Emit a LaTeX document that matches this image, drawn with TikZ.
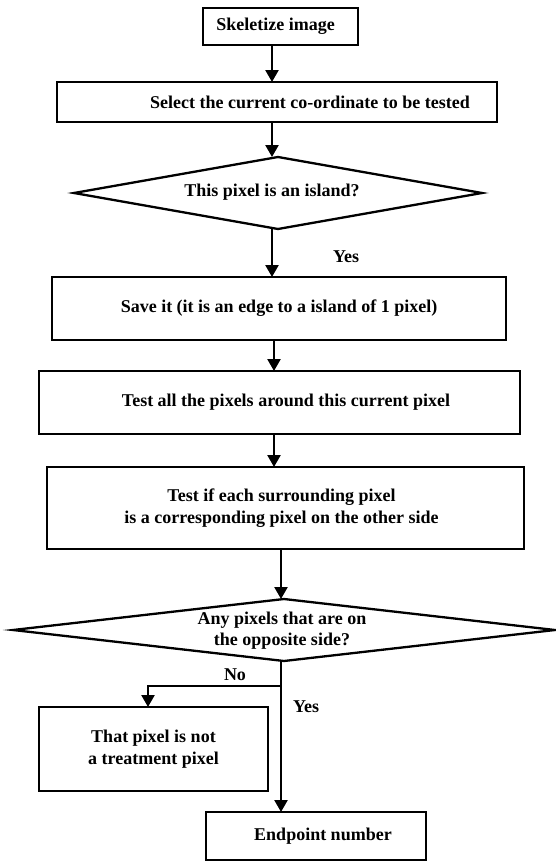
\documentclass[tikz,border=0pt]{standalone}
\usepackage{fontspec}
\setmainfont{Liberation Serif}
\usetikzlibrary{arrows.meta}
\begin{document}
\begin{tikzpicture}[x=1pt,y=-1pt,
  every node/.style={font=\fontsize{18}{22}\selectfont\bfseries, align=center},
  boxnode/.style={draw, line width=2.6pt, inner sep=0pt, outer sep=0pt},
  dianode/.style={draw=none, inner sep=0pt, outer sep=0pt},
  diaedge/.style={line width=2.3pt, line join=miter},
  arr/.style={line width=2.4pt, -{Triangle[width=13pt,length=12pt]}},
  lbl/.style={inner sep=0pt}]
\useasboundingbox (0,0) rectangle (556,862);
\fill[white] (0,0) rectangle (556,862);

% boxes
\node[boxnode, minimum width=155pt, minimum height=37pt] (b1) at (280.5,26.5) {\hspace*{-10pt}Skeletize image};
\node[boxnode, minimum width=440pt, minimum height=40pt] (b2) at (277,102) {\hspace*{66pt}Select the current co-ordinate to be tested};
\node[boxnode, minimum width=454pt, minimum height=63pt] (b3) at (279,308.5) {Save it (it is an edge to a island of 1 pixel)};
\node[boxnode, minimum width=481pt, minimum height=63pt] (b4) at (279.5,402.5) {\hspace*{13pt}Test all the pixels around this current pixel};
\node[boxnode, minimum width=477pt, minimum height=82pt] (b5) at (285.5,508) {\hspace*{-8pt}Test if each surrounding pixel\\\hspace*{-8pt}is a corresponding pixel on the other side};
\node[boxnode, minimum width=229pt, minimum height=84pt] (b6) at (153.5,749) {That pixel is not\\a treatment pixel};
\node[boxnode, minimum width=220pt, minimum height=48pt] (b7) at (316,836) {\hspace*{14pt}Endpoint number};

% diamonds
\node[dianode, minimum width=408pt, minimum height=72pt] (d1) at (278,193) {};
\draw[diaedge] (d1.west) -- (d1.north) -- (d1.east) -- (d1.south) -- cycle;
\node[lbl] (t1) at (272,192) {This pixel is an island?};

\node[dianode, minimum width=542pt, minimum height=62pt] (d2) at (284,630) {};
\draw[diaedge] (d2.west) -- (d2.north) -- (d2.east) -- (d2.south) -- cycle;
\node[lbl, font=\fontsize{18}{21}\selectfont\bfseries] (t2) at (282,631) {Any pixels that are on\\the opposite side?};

% axes for vertical connectors
\coordinate (axA) at (272,0);
\coordinate (axM) at (274,0);
\coordinate (axB) at (281,0);
\coordinate (nojoint) at (148,686);

% connectors
\draw[arr] (b1.south -| axA) -- (b2.north -| axA);
\draw[arr] (b2.south -| axA) -- (d1.north -| axA);
\draw[arr] (d1.south -| axA) -- (b3.north -| axA);
\draw[arr] (b3.south -| axM) -- (b4.north -| axM);
\draw[arr] (b4.south -| axM) -- (b5.north -| axM);
\draw[arr] (b5.south -| axB) -- (d2.north -| axB);
\draw[arr] (d2.south -| axB) |- (nojoint) -- (b6.north -| nojoint);
\draw[arr] (d2.south -| axB) -- (b7.north -| axB);

% labels
\node[lbl] (yes1) at (346,257) {Yes};
\node[lbl] (no) at (235,675) {No};
\node[lbl] (yes2) at (306,707) {Yes};
\end{tikzpicture}
\end{document}
